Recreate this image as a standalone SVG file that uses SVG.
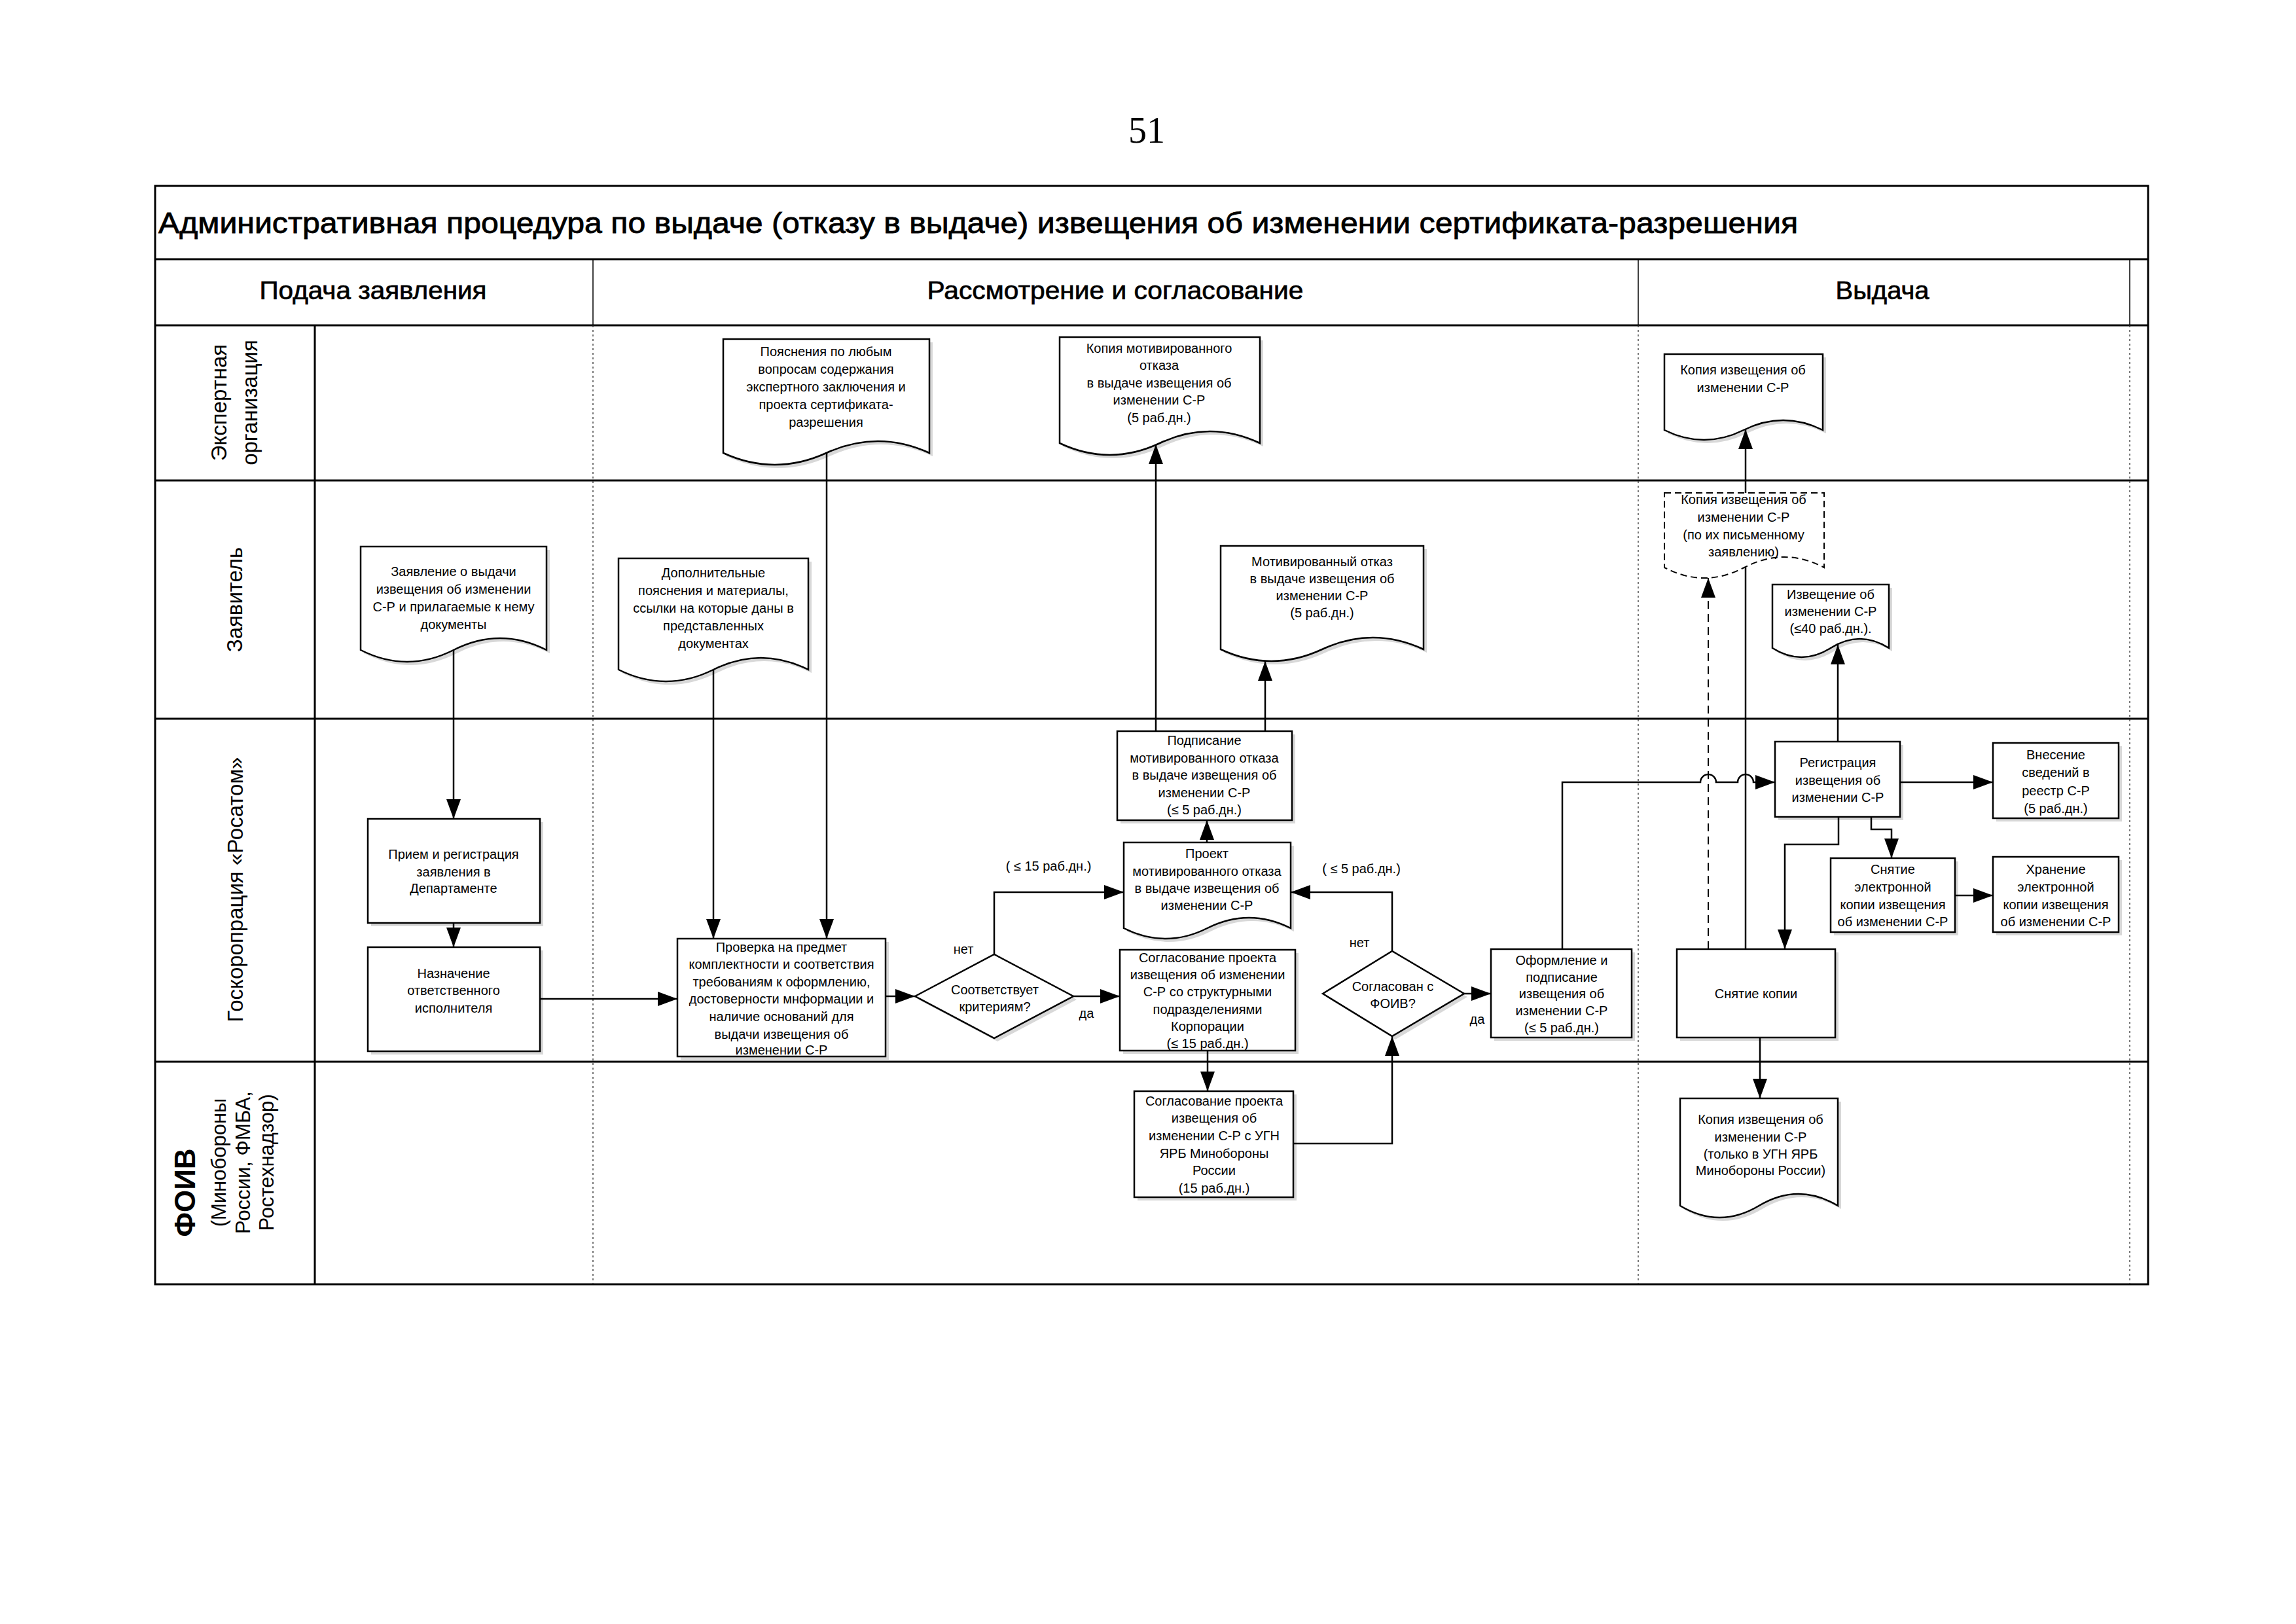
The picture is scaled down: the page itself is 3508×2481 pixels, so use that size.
<svg xmlns="http://www.w3.org/2000/svg" width="3508" height="2481" viewBox="0 0 3508 2481">
<style>
.ln{stroke:#000;stroke-width:3;fill:none}
.thin{stroke:#000;stroke-width:1.5;fill:none}
.dot{stroke:#333;stroke-width:1.3;stroke-dasharray:3 4;fill:none}
.box{fill:#fff;stroke:#000;stroke-width:2.5}
.dbox{fill:#fff;stroke:#000;stroke-width:2;stroke-dasharray:10 6}
.sh{fill:#d8d8d8}
.c{fill:none;stroke:#000;stroke-width:2.5;marker-end:url(#ah)}
.cn{fill:none;stroke:#000;stroke-width:2.5}
.cd{fill:none;stroke:#000;stroke-width:2;stroke-dasharray:12 8;marker-end:url(#ah)}
.t{font-family:"Liberation Sans",Arial,sans-serif;font-size:20px;text-anchor:middle;fill:#000}
.lab{font-family:"Liberation Sans",Arial,sans-serif;font-size:33px;text-anchor:middle;fill:#000}
.hd{font-family:"Liberation Sans",Arial,sans-serif;font-size:38px;text-anchor:middle;fill:#000;stroke:#000;stroke-width:0.7}
</style>
<defs>
<marker id="ah" markerUnits="userSpaceOnUse" markerWidth="30" markerHeight="22" refX="30" refY="11" orient="auto">
<path d="M0,0 L30,11 L0,22 Z" fill="#000"/>
</marker>
</defs>
<rect x="0" y="0" width="3508" height="2481" fill="#fff"/>
<text x="1752" y="218" font-family="Liberation Serif,Times New Roman,serif" font-size="56" text-anchor="middle">51</text>

<g id="frame">
<rect x="237" y="284" width="3045" height="1678" class="ln"/>
<line x1="237" y1="396" x2="3282" y2="396" class="ln"/>
<line x1="237" y1="497" x2="3282" y2="497" class="ln"/>
<line x1="237" y1="734" x2="3282" y2="734" class="ln"/>
<line x1="237" y1="1098" x2="3282" y2="1098" class="ln"/>
<line x1="237" y1="1622" x2="3282" y2="1622" class="ln"/>
<line x1="481" y1="497" x2="481" y2="1962" class="ln"/>
<line x1="906" y1="396" x2="906" y2="497" class="thin"/>
<line x1="2503" y1="396" x2="2503" y2="497" class="thin"/>
<line x1="3254" y1="396" x2="3254" y2="497" class="thin"/>
<line x1="906" y1="497" x2="906" y2="1962" class="dot"/>
<line x1="2503" y1="497" x2="2503" y2="1962" class="dot"/>
<line x1="3254" y1="497" x2="3254" y2="1962" class="dot"/>
<text x="242" y="356" font-family="Liberation Sans,Arial,sans-serif" font-size="44" stroke="#000" stroke-width="0.8" textLength="2505" lengthAdjust="spacingAndGlyphs">Административная процедура по выдаче (отказу в выдаче) извещения об изменении сертификата-разрешения</text>
<text x="570" y="457" class="hd" textLength="347" lengthAdjust="spacingAndGlyphs">Подача заявления</text>
<text x="1704" y="457" class="hd" textLength="575" lengthAdjust="spacingAndGlyphs">Рассмотрение и согласование</text>
<text x="2876" y="457" class="hd" textLength="143" lengthAdjust="spacingAndGlyphs">Выдача</text>
</g>

<g id="lanes">
<text class="lab" transform="translate(346,615) rotate(-90)">Экспертная</text>
<text class="lab" transform="translate(393,615) rotate(-90)">организация</text>
<text class="lab" transform="translate(370,916) rotate(-90)">Заявитель</text>
<text class="lab" transform="translate(371,1359) rotate(-90)">Госкоропрация «Росатом»</text>
<text transform="translate(298,1822) rotate(-90)" font-family="Liberation Sans,Arial,sans-serif" font-size="44" font-weight="bold" text-anchor="middle">ФОИВ</text>
<text transform="translate(345,1776) rotate(-90)" font-family="Liberation Sans,Arial,sans-serif" font-size="31" text-anchor="middle">(Минобороны</text>
<text transform="translate(382,1776) rotate(-90)" font-family="Liberation Sans,Arial,sans-serif" font-size="31" text-anchor="middle">России, ФМБА,</text>
<text transform="translate(418,1776) rotate(-90)" font-family="Liberation Sans,Arial,sans-serif" font-size="31" text-anchor="middle">Ростехнадзор)</text>
</g>

<g id="doc1">
<path class="sh" transform="translate(5,5)" d="M1105,518 H1420 V692 Q1341.25,656 1262.5,692 Q1183.75,728 1105,692 Z"/>
<path class="box" d="M1105,518 H1420 V692 Q1341.25,656 1262.5,692 Q1183.75,728 1105,692 Z"/>
<text class="t"><tspan x="1262" y="544">Пояснения по любым</tspan><tspan x="1262" y="571">вопросам содержания</tspan><tspan x="1262" y="598">экспертного заключения и</tspan><tspan x="1262" y="625">проекта сертификата-</tspan><tspan x="1262" y="652">разрешения</tspan></text>
</g>

<g id="doc2">
<path class="sh" transform="translate(5,5)" d="M1619,515 H1925 V677 Q1848.5,641 1772,677 Q1695.5,713 1619,677 Z"/>
<path class="box" d="M1619,515 H1925 V677 Q1848.5,641 1772,677 Q1695.5,713 1619,677 Z"/>
<text class="t"><tspan x="1771" y="539">Копия мотивированного</tspan><tspan x="1771" y="565">отказа</tspan><tspan x="1771" y="592">в выдаче извещения об</tspan><tspan x="1771" y="618">изменении С-Р</tspan><tspan x="1771" y="645">(5 раб.дн.)</tspan></text>
</g>

<g id="doc3">
<path class="sh" transform="translate(5,5)" d="M551,835 H835 V993 Q764,957 693,993 Q622,1029 551,993 Z"/>
<path class="box" d="M551,835 H835 V993 Q764,957 693,993 Q622,1029 551,993 Z"/>
<text class="t"><tspan x="693" y="880">Заявление о  выдачи</tspan><tspan x="693" y="907">извещения об изменении</tspan><tspan x="693" y="934">С-Р и прилагаемые к нему</tspan><tspan x="693" y="961">документы</tspan></text>
</g>

<g id="doc4">
<path class="sh" transform="translate(5,5)" d="M945,853 H1235 V1023 Q1162.5,987 1090,1023 Q1017.5,1059 945,1023 Z"/>
<path class="box" d="M945,853 H1235 V1023 Q1162.5,987 1090,1023 Q1017.5,1059 945,1023 Z"/>
<text class="t"><tspan x="1090" y="882">Дополнительные</tspan><tspan x="1090" y="909">пояснения и материалы,</tspan><tspan x="1090" y="936">ссылки на которые даны в</tspan><tspan x="1090" y="963">представленных</tspan><tspan x="1090" y="990">документах</tspan></text>
</g>

<g id="doc5">
<path class="sh" transform="translate(5,5)" d="M1865,834 H2175 V992 Q2097.5,956 2020,992 Q1942.5,1028 1865,992 Z"/>
<path class="box" d="M1865,834 H2175 V992 Q2097.5,956 2020,992 Q1942.5,1028 1865,992 Z"/>
<text class="t"><tspan x="2020" y="865">Мотивированный отказ</tspan><tspan x="2020" y="891">в выдаче извещения об</tspan><tspan x="2020" y="917">изменении  С-Р</tspan><tspan x="2020" y="943">(5 раб.дн.)</tspan></text>
</g>

<g id="doc6">
<path class="sh" transform="translate(5,5)" d="M2543,541 H2785 V657 Q2724.5,627 2664,657 Q2603.5,687 2543,657 Z"/>
<path class="box" d="M2543,541 H2785 V657 Q2724.5,627 2664,657 Q2603.5,687 2543,657 Z"/>
<text class="t"><tspan x="2663" y="572">Копия извещения об</tspan><tspan x="2663" y="599">изменении  С-Р</tspan></text>
</g>

<g id="doc7">
<path class="dbox" d="M2543,753 H2787 V867 Q2726,835 2665,867 Q2604,899 2543,867 Z"/>
<text class="t"><tspan x="2664" y="770">Копия извещения об</tspan><tspan x="2664" y="797">изменении С-Р</tspan><tspan x="2664" y="824">(по их письменному</tspan><tspan x="2664" y="850">заявлению)</tspan></text>
</g>

<g id="doc8">
<path class="sh" transform="translate(5,5)" d="M2708,893 H2886 V990 Q2841.5,962 2797,990 Q2752.5,1018 2708,990 Z"/>
<path class="box" d="M2708,893 H2886 V990 Q2841.5,962 2797,990 Q2752.5,1018 2708,990 Z"/>
<text class="t"><tspan x="2797" y="915">Извещение об</tspan><tspan x="2797" y="941">изменении С-Р</tspan><tspan x="2797" y="967">(≤40 раб.дн.).</tspan></text>
</g>

<g id="priem">
<rect class="sh" x="567" y="1256" width="263" height="159"/>
<rect class="box" x="562" y="1251" width="263" height="159"/>
<text class="t"><tspan x="693" y="1312">Прием и регистрация</tspan><tspan x="693" y="1339">заявления в</tspan><tspan x="693" y="1364">Департаменте</tspan></text>
</g>

<g id="naznach">
<rect class="sh" x="567" y="1452" width="263" height="159"/>
<rect class="box" x="562" y="1447" width="263" height="159"/>
<text class="t"><tspan x="693" y="1494">Назначение</tspan><tspan x="693" y="1520">ответственного</tspan><tspan x="693" y="1547">исполнителя</tspan></text>
</g>

<g id="proverka">
<rect class="sh" x="1040" y="1439" width="318" height="180"/>
<rect class="box" x="1035" y="1434" width="318" height="180"/>
<text class="t"><tspan x="1194" y="1454">Проверка на предмет</tspan><tspan x="1194" y="1480">комплектности и соответствия</tspan><tspan x="1194" y="1507">требованиям к оформлению,</tspan><tspan x="1194" y="1533">достоверности мнформации и</tspan><tspan x="1194" y="1560">наличие оснований для</tspan><tspan x="1194" y="1587">выдачи извещения об</tspan><tspan x="1194" y="1611">изменении С-Р</tspan></text>
</g>

<g id="dec1">
<polygon class="sh" transform="translate(5,5)" points="1398,1522 1519,1458 1640,1522 1519,1586"/>
<polygon class="box" points="1398,1522 1519,1458 1640,1522 1519,1586"/>
<text class="t"><tspan x="1520" y="1519">Соответствует</tspan><tspan x="1520" y="1545">критериям?</tspan></text>
</g>

<g id="proekt">
<path class="sh" transform="translate(5,5)" d="M1717,1287 H1972 V1418 Q1908.25,1386 1844.5,1418 Q1780.75,1450 1717,1418 Z"/>
<path class="box" d="M1717,1287 H1972 V1418 Q1908.25,1386 1844.5,1418 Q1780.75,1450 1717,1418 Z"/>
<text class="t"><tspan x="1844" y="1311">Проект</tspan><tspan x="1844" y="1338">мотивированного отказа</tspan><tspan x="1844" y="1364">в выдаче извещения об</tspan><tspan x="1844" y="1390">изменении  С-Р</tspan></text>
</g>

<g id="podpis">
<rect class="sh" x="1712" y="1122" width="267" height="136"/>
<rect class="box" x="1707" y="1117" width="267" height="136"/>
<text class="t"><tspan x="1840" y="1138">Подписание</tspan><tspan x="1840" y="1165">мотивированного отказа</tspan><tspan x="1840" y="1191">в выдаче извещения об</tspan><tspan x="1840" y="1218">изменении С-Р</tspan><tspan x="1840" y="1244">(≤ 5 раб.дн.)</tspan></text>
</g>

<g id="soglcorp">
<rect class="sh" x="1716" y="1456" width="268" height="154"/>
<rect class="box" x="1711" y="1451" width="268" height="154"/>
<text class="t"><tspan x="1845" y="1470">Согласование проекта</tspan><tspan x="1845" y="1496">извещения об изменении</tspan><tspan x="1845" y="1522">С-Р со структурными</tspan><tspan x="1845" y="1549">подразделениями</tspan><tspan x="1845" y="1575">Корпорации</tspan><tspan x="1845" y="1601">(≤ 15 раб.дн.)</tspan></text>
</g>

<g id="soglfoiv">
<rect class="sh" x="1738" y="1672" width="243" height="162"/>
<rect class="box" x="1733" y="1667" width="243" height="162"/>
<text class="t"><tspan x="1855" y="1689">Согласование проекта</tspan><tspan x="1855" y="1715">извещения об</tspan><tspan x="1855" y="1742">изменении С-Р с УГН</tspan><tspan x="1855" y="1769">ЯРБ Минобороны</tspan><tspan x="1855" y="1795">России</tspan><tspan x="1855" y="1822">(15 раб.дн.)</tspan></text>
</g>

<g id="dec2">
<polygon class="sh" transform="translate(5,5)" points="2021,1518 2127,1453 2237,1518 2127,1583"/>
<polygon class="box" points="2021,1518 2127,1453 2237,1518 2127,1583"/>
<text class="t"><tspan x="2128" y="1514">Согласован с</tspan><tspan x="2128" y="1540">ФОИВ?</tspan></text>
</g>

<g id="oform">
<rect class="sh" x="2283" y="1455" width="215" height="135"/>
<rect class="box" x="2278" y="1450" width="215" height="135"/>
<text class="t"><tspan x="2386" y="1474">Оформление и</tspan><tspan x="2386" y="1500">подписание</tspan><tspan x="2386" y="1525">извещения об</tspan><tspan x="2386" y="1551">изменении С-Р</tspan><tspan x="2386" y="1577">(≤ 5 раб.дн.)</tspan></text>
</g>

<g id="registr">
<rect class="sh" x="2717" y="1138" width="191" height="115"/>
<rect class="box" x="2712" y="1133" width="191" height="115"/>
<text class="t"><tspan x="2808" y="1172">Регистрация</tspan><tspan x="2808" y="1199">извещения об</tspan><tspan x="2808" y="1225">изменении С-Р</tspan></text>
</g>

<g id="vnesenie">
<rect class="sh" x="3050" y="1140" width="192" height="115"/>
<rect class="box" x="3045" y="1135" width="192" height="115"/>
<text class="t"><tspan x="3141" y="1160">Внесение</tspan><tspan x="3141" y="1187">сведений в</tspan><tspan x="3141" y="1215">реестр С-Р</tspan><tspan x="3141" y="1242">(5 раб.дн.)</tspan></text>
</g>

<g id="snyatel">
<rect class="sh" x="2802" y="1316" width="190" height="113"/>
<rect class="box" x="2797" y="1311" width="190" height="113"/>
<text class="t"><tspan x="2892" y="1335">Снятие</tspan><tspan x="2892" y="1362">электронной</tspan><tspan x="2892" y="1389">копии извещения</tspan><tspan x="2892" y="1415">об изменении С-Р</tspan></text>
</g>

<g id="hranenie">
<rect class="sh" x="3050" y="1314" width="192" height="115"/>
<rect class="box" x="3045" y="1309" width="192" height="115"/>
<text class="t"><tspan x="3141" y="1335">Хранение</tspan><tspan x="3141" y="1362">электронной</tspan><tspan x="3141" y="1389">копии извещения</tspan><tspan x="3141" y="1415">об изменении С-Р</tspan></text>
</g>

<g id="snyatkop">
<rect class="sh" x="2567" y="1455" width="242" height="135"/>
<rect class="box" x="2562" y="1450" width="242" height="135"/>
<text class="t" x="2683" y="1525">Снятие копии</text>
</g>

<g id="docfoiv">
<path class="sh" transform="translate(5,5)" d="M2567,1678 H2808 V1842 Q2747.75,1806 2687.5,1842 Q2627.25,1878 2567,1842 Z"/>
<path class="box" d="M2567,1678 H2808 V1842 Q2747.75,1806 2687.5,1842 Q2627.25,1878 2567,1842 Z"/>
<text class="t"><tspan x="2690" y="1717">Копия извещения об</tspan><tspan x="2690" y="1744">изменении  С-Р</tspan><tspan x="2690" y="1770">(только в УГН ЯРБ</tspan><tspan x="2690" y="1795">Минобороны России)</tspan></text>
</g>

<g id="connectors">
<path class="c" d="M693,993 V1251"/>
<path class="c" d="M693,1410 V1447"/>
<path class="c" d="M825,1526 H1035"/>
<path class="c" d="M1090,1023 V1434"/>
<path class="c" d="M1263,691 V1434"/>
<path class="c" d="M1353,1522 H1398"/>
<path class="c" d="M1519,1458 V1363 H1717"/>
<path class="c" d="M1640,1522 H1711"/>
<path class="c" d="M1844,1287 V1253"/>
<path class="c" d="M1766,1117 V679"/>
<path class="c" d="M1933,1117 V1010"/>
<path class="c" d="M1845,1605 V1667"/>
<path class="c" d="M1976,1747 H2127 V1583"/>
<path class="c" d="M2127,1453 V1363 H1972"/>
<path class="c" d="M2237,1518 H2278"/>
<path class="c" d="M2387,1450 V1195 H2598 A12,12 0 0 1 2622,1195 H2655 A12,12 0 0 1 2679,1195 H2712"/>
<path class="c" d="M2903,1195 H3045"/>
<path class="c" d="M2859,1248 V1267 H2890 V1311"/>
<path class="c" d="M2987,1368 H3045"/>
<path class="c" d="M2809,1248 V1290 H2727 V1450"/>
<path class="c" d="M2808,1133 V985"/>
<path class="cn" d="M2667,1450 V867"/>
<path class="c" d="M2667,753 V656"/>
<path class="cd" d="M2610,1450 V883"/>
<path class="c" d="M2689,1585 V1678"/>
<text class="t" x="1602" y="1330">( ≤ 15 раб.дн.)</text>
<text class="t" x="2080" y="1334">( ≤ 5 раб.дн.)</text>
<text class="t" x="1472" y="1457">нет</text>
<text class="t" x="1660" y="1555">да</text>
<text class="t" x="2077" y="1447">нет</text>
<text class="t" x="2257" y="1564">да</text>
</g>
</svg>
